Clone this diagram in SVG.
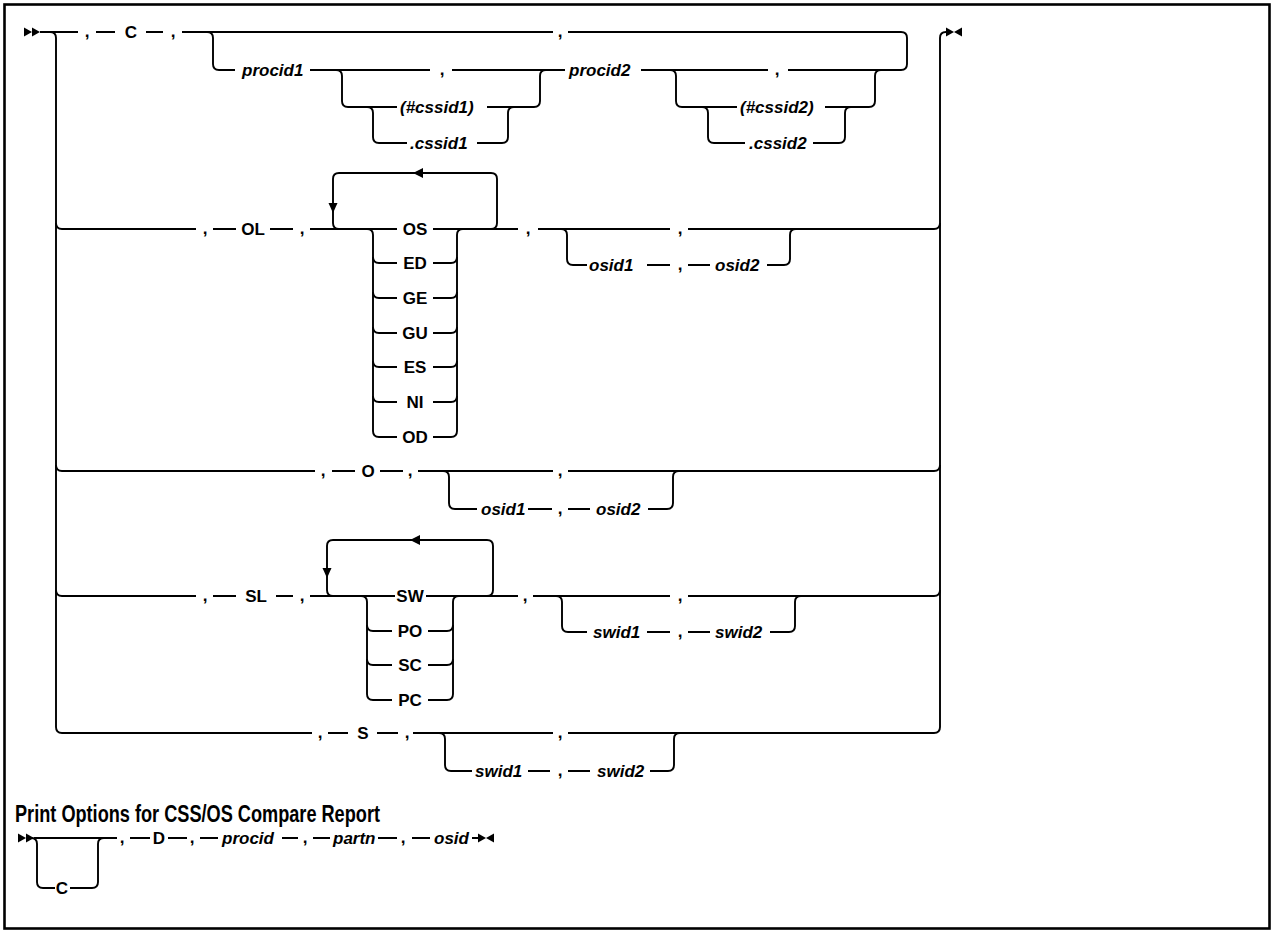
<svg xmlns="http://www.w3.org/2000/svg" width="1274" height="933" viewBox="0 0 1274 933">
<style>
.ln{fill:none;stroke:#000;stroke-width:1.9}
.t{font-family:"Liberation Sans",Arial,sans-serif;font-size:17px;font-weight:bold;fill:#000}
.i{font-style:italic}
.m{text-anchor:middle}
.h{font-family:"Liberation Sans",Arial,sans-serif;font-size:23px;font-weight:bold;fill:#000}
.ah{fill:#000}
</style>
<rect x="4.5" y="4.5" width="1265" height="924" fill="#fff" stroke="#000" stroke-width="2.6"/>

<g id="connectors">
<polygon class="ah" points="24,27.5 32,32 24,36.5"/><polygon class="ah" points="32,27.5 40,32 32,36.5"/>
<polygon class="ah" points="946,27.5 954,32 946,36.5"/><polygon class="ah" points="962,27.5 954,32 962,36.5"/>
<path class="ln" d="M40,32 H78 M50,32 Q56,32 56,38 V727 Q56,733 62,733"/>
<path class="ln" d="M56,223 Q56,229 62,229 M56,465 Q56,471 62,471 M56,590 Q56,596 62,596"/>
<path class="ln" d="M934,733 Q940,733 940,727 V38 Q940,32 946,32"/>
<path class="ln" d="M96,32 H115 M146,32 H163 M182,32 H553 M568,32 H901 Q907,32 907,38 V64 Q907,70 901,70"/>
<path class="ln" d="M207,32 Q213,32 213,38 V64 Q213,70 219,70 H235 M310,70 H430 M452,70 H565 M641,70 H768 M788,70 H901"/>
<path class="ln" d="M336,70 Q342,70 342,76 V101 Q342,107 348,107 H397 M487,107 H534 Q540,107 540,101 V76 Q540,70 546,70"/>
<path class="ln" d="M367,107 Q373,107 373,113 V137 Q373,143 379,143 H407 M477,143 H502 Q508,143 508,137 V113 Q508,107 514,107"/>
<path class="ln" d="M670,70 Q676,70 676,76 V101 Q676,107 682,107 H737 M825,107 H869 Q875,107 875,101 V76 Q875,70 881,70"/>
<path class="ln" d="M702,107 Q708,107 708,113 V137 Q708,143 714,143 H745 M813,143 H839 Q845,143 845,137 V113 Q845,107 851,107"/>
<path class="ln" d="M62,229 H196 M213,229 H236 M270,229 H293 M310,229 H397 M433,229 H518 M538,229 H670 M688,229 H934 Q940,229 940,223"/>
<path class="ln" d="M339,229 Q333,229 333,223 V179 Q333,173 339,173 H491 Q497,173 497,179 V223 Q497,229 491,229"/>
<polygon class="ah" points="413,173 423,168 423,178"/>
<polygon class="ah" points="328.5,203 337.5,203 333,213"/>
<path class="ln" d="M367,229 Q373,229 373,235 V431 Q373,437 379,437 M451,437 Q457,437 457,431 V235 Q457,229 463,229"/>
<path class="ln" d="M373,257 Q373,263 379,263 H397 M433,263 H451 Q457,263 457,257"/>
<path class="ln" d="M373,292 Q373,298 379,298 H397 M433,298 H451 Q457,298 457,292"/>
<path class="ln" d="M373,327 Q373,333 379,333 H397 M433,333 H451 Q457,333 457,327"/>
<path class="ln" d="M373,361 Q373,367 379,367 H397 M433,367 H451 Q457,367 457,361"/>
<path class="ln" d="M373,396 Q373,402 379,402 H397 M433,402 H451 Q457,402 457,396"/>
<path class="ln" d="M379,437 H397 M433,437 H451"/>
<path class="ln" d="M561,229 Q567,229 567,235 V259 Q567,265 573,265 H587 M647,265 H670 M688,265 H710 M767,265 H784 Q790,265 790,259 V235 Q790,229 796,229"/>
<path class="ln" d="M62,471 H315 M332,471 H355 M380,471 H403 M418,471 H553 M568,471 H934 Q940,471 940,465"/>
<path class="ln" d="M443,471 Q449,471 449,477 V503 Q449,509 455,509 H477 M528,509 H552 M568,509 H590 M648,509 H667 Q673,509 673,503 V477 Q673,471 679,471"/>
<path class="ln" d="M62,596 H196 M213,596 H236 M276,596 H293 M310,596 H395 M426,596 H518 M533,596 H670 M688,596 H934 Q940,596 940,590"/>
<path class="ln" d="M333,596 Q327,596 327,590 V546 Q327,540 333,540 H487 Q493,540 493,546 V590 Q493,596 487,596"/>
<polygon class="ah" points="410,540 420,535 420,545"/>
<polygon class="ah" points="322.5,568 331.5,568 327,578"/>
<path class="ln" d="M361,596 Q367,596 367,602 V694 Q367,700 373,700 M447,700 Q453,700 453,694 V602 Q453,596 459,596"/>
<path class="ln" d="M367,625 Q367,631 373,631 H392 M428,631 H447 Q453,631 453,625"/>
<path class="ln" d="M367,659 Q367,665 373,665 H392 M428,665 H447 Q453,665 453,659"/>
<path class="ln" d="M373,700 H392 M428,700 H447"/>
<path class="ln" d="M556,596 Q562,596 562,602 V626 Q562,632 568,632 H587 M647,632 H670 M688,632 H710 M770,632 H789 Q795,632 795,626 V602 Q795,596 801,596"/>
<path class="ln" d="M62,733 H312 M328,733 H348 M377,733 H398 M413,733 H553 M568,733 H934"/>
<path class="ln" d="M439,733 Q445,733 445,739 V765 Q445,771 451,771 H472 M528,771 H550 M568,771 H590 M650,771 H668 Q674,771 674,765 V739 Q674,733 680,733"/>
<polygon class="ah" points="18,833.5 26,838 18,842.5"/><polygon class="ah" points="26,833.5 34,838 26,842.5"/>
<path class="ln" d="M34,838 H117 M31,838 Q37,838 37,844 V882 Q37,888 43,888 H55 M70,888 H92 Q98,888 98,882 V844 Q98,838 104,838"/>
<path class="ln" d="M130,838 H150 M168,838 H187 M200,838 H218 M282,838 H298 M313,838 H330 M378,838 H397 M412,838 H430 M472,838 H481"/>
<polygon class="ah" points="478,833.5 486,838 478,842.5"/><polygon class="ah" points="494,833.5 486,838 494,842.5"/>
</g>

<g id="n-row1">
<text class="t m" x="87" y="36.5">,</text>
<text class="t m" x="131" y="38">C</text>
<text class="t m" x="173" y="36.5">,</text>
<text class="t m" x="560" y="36.5">,</text>
<text class="t i" x="242" y="76">procid1</text>
<text class="t m" x="442" y="74.5">,</text>
<text class="t i" x="569" y="76">procid2</text>
<text class="t m" x="777" y="74.5">,</text>
<text class="t i" x="400" y="113">(#cssid1)</text>
<text class="t i" x="410" y="149">.cssid1</text>
<text class="t i" x="740" y="113">(#cssid2)</text>
<text class="t i" x="749" y="149">.cssid2</text>
</g>
<g id="n-ol">
<text class="t m" x="205" y="233.5">,</text>
<text class="t m" x="253" y="235">OL</text>
<text class="t m" x="302" y="233.5">,</text>
<text class="t m" x="415" y="235">OS</text>
<text class="t m" x="415" y="269">ED</text>
<text class="t m" x="415" y="304">GE</text>
<text class="t m" x="415" y="339">GU</text>
<text class="t m" x="415" y="373">ES</text>
<text class="t m" x="415" y="408">NI</text>
<text class="t m" x="415" y="443">OD</text>
<text class="t m" x="528" y="233.5">,</text>
<text class="t m" x="680" y="233.5">,</text>
<text class="t i" x="589" y="271">osid1</text>
<text class="t m" x="680" y="269.5">,</text>
<text class="t i" x="715" y="271">osid2</text>
</g>
<g id="n-o">
<text class="t m" x="323" y="475.5">,</text>
<text class="t m" x="368" y="477">O</text>
<text class="t m" x="410" y="475.5">,</text>
<text class="t m" x="560" y="475.5">,</text>
<text class="t i" x="481" y="515">osid1</text>
<text class="t m" x="560" y="513.5">,</text>
<text class="t i" x="596" y="515">osid2</text>
</g>
<g id="n-sl">
<text class="t m" x="205" y="600.5">,</text>
<text class="t m" x="256" y="602">SL</text>
<text class="t m" x="302" y="600.5">,</text>
<text class="t m" x="410" y="602">SW</text>
<text class="t m" x="410" y="637">PO</text>
<text class="t m" x="410" y="671">SC</text>
<text class="t m" x="410" y="706">PC</text>
<text class="t m" x="525" y="600.5">,</text>
<text class="t m" x="680" y="600.5">,</text>
<text class="t i" x="593" y="638">swid1</text>
<text class="t m" x="680" y="636.5">,</text>
<text class="t i" x="715" y="638">swid2</text>
</g>
<g id="n-s">
<text class="t m" x="320" y="737.5">,</text>
<text class="t m" x="363" y="739">S</text>
<text class="t m" x="407" y="737.5">,</text>
<text class="t m" x="560" y="737.5">,</text>
<text class="t i" x="475" y="777">swid1</text>
<text class="t m" x="560" y="775.5">,</text>
<text class="t i" x="597" y="777">swid2</text>
</g>
<g id="n-print">
<text class="h" x="15" y="822" textLength="365" lengthAdjust="spacingAndGlyphs">Print Options for CSS/OS Compare Report</text>
<text class="t m" x="62" y="894">C</text>
<text class="t m" x="122" y="842.5">,</text>
<text class="t m" x="159" y="844">D</text>
<text class="t m" x="192" y="842.5">,</text>
<text class="t i" x="222" y="844">procid</text>
<text class="t m" x="305" y="842.5">,</text>
<text class="t i" x="333" y="844">partn</text>
<text class="t m" x="403" y="842.5">,</text>
<text class="t i" x="434" y="844">osid</text>
</g>
</svg>
